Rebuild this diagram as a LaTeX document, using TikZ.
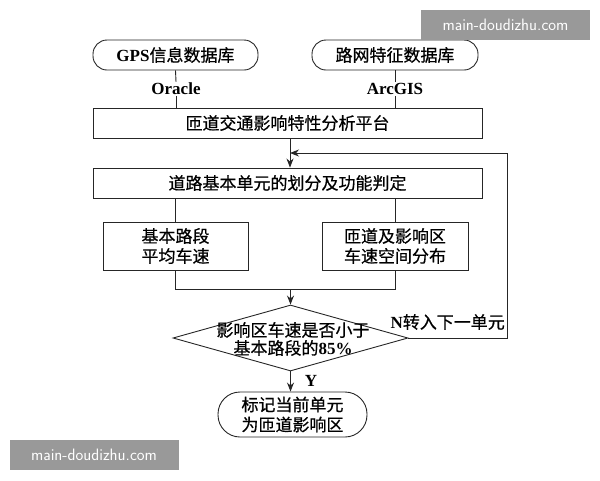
\documentclass[tikz,border=0pt]{standalone}
\usepackage{fontspec}
\setmainfont{Liberation Serif}
\newfontfamily\cjk[FakeBold=0.6]{Noto Sans CJK SC}
\usetikzlibrary{shapes.geometric,arrows.meta}
\begin{document}
\begin{tikzpicture}[x=1pt,y=-1pt,
  base/.style={draw=black!85,line width=0.9pt,font=\cjk\fontsize{17}{20}\selectfont,inner sep=0pt,align=center},
  capsule/.style={base,rounded corners=14pt},
  boxx/.style={base,rectangle},
  lbl/.style={font=\fontsize{17}{19}\selectfont\bfseries,inner sep=1pt},
  ln/.style={draw=black!85,line width=0.9pt},
  arr/.style={ln,-{Stealth[length=9pt,width=7pt]}},
  wm/.style={fill=black!40,text=white,font=\fontsize{16.5}{18}\selectfont\sffamily,inner sep=0pt,minimum width=169pt,minimum height=30pt}
]
\useasboundingbox (0,0) rectangle (600,480);
\node[capsule,minimum width=165pt,minimum height=30pt] (gps) at (175.5,55) {{\fontspec{Liberation Serif}\bfseries GPS}信息数据库};
\node[capsule,minimum width=166pt,minimum height=30pt] (road) at (395,55) {路网特征数据库};
\node[lbl] (ora) at (176,89) {Oracle};
\node[lbl] (arc) at (395,89) {ArcGIS};
\node[boxx,minimum width=389pt,minimum height=30pt] (plat) at (287.5,123) {匝道交通影响特性分析平台};
\node[boxx,minimum width=389pt,minimum height=30pt] (div) at (287.5,183) {道路基本单元的划分及功能判定};
\node[boxx,minimum width=145pt,minimum height=48pt] (avg) at (175.5,246) {基本路段\\平均车速};
\node[boxx,minimum width=146pt,minimum height=48pt] (dist) at (395,246) {匝道及影响区\\车速空间分布};
\node[draw=black!85,line width=0.9pt,diamond,minimum width=235pt,minimum height=66pt,inner sep=0pt] (dec) at (290.5,338) {};
\node[font=\cjk\fontsize{17}{18}\selectfont,align=center,inner sep=0pt] (dectxt) at (293,339) {影响区车速是否小于\\基本路段的{\fontspec{Liberation Serif}\bfseries 85\%}};
\node[capsule,minimum width=149pt,minimum height=45pt,rounded corners=22pt] (mark) at (292.5,414.5) {标记当前单元\\为匝道影响区};
\coordinate (join) at (290.5,289);
\coordinate (fb1) at (507,338);
\coordinate (fb2) at (507,153);
\coordinate (fb3) at (290,153);
\node[font=\cjk\fontsize{17}{20}\selectfont,inner sep=0pt,anchor=east] (nlbl) at (505,322) {{\fontspec{Liberation Serif}\bfseries N}转入下一单元};
\node[lbl] (ylbl) at (311,381) {Y};
% connectors
\draw[ln] (gps.south) -- (ora.north);
\draw[ln] (ora.south) -- (plat.north -| ora);
\draw[ln] (road.south) -- (arc.north);
\draw[ln] (arc.south) -- (plat.north -| arc);
\draw[arr] (plat.south -| fb3) -- (div.north -| fb3);
\draw[arr] (dec.east) -- (fb1) -- (fb2) -- (fb3);
\draw[ln] (div.south -| avg) -- (avg.north);
\draw[ln] (div.south -| dist) -- (dist.north);
\draw[ln] (avg.south) -- (avg.south |- join) -- (dist.south |- join) -- (dist.south);
\draw[arr] (join) -- (dec.north);
\draw[arr] (dec.south) -- (mark.north -| dec.south);
% watermarks
\node[wm] (wm1) at (505.5,25) {main-doudizhu.com};
\node[wm] (wm2) at (94,455) {main-doudizhu.com};
\end{tikzpicture}
\end{document}
